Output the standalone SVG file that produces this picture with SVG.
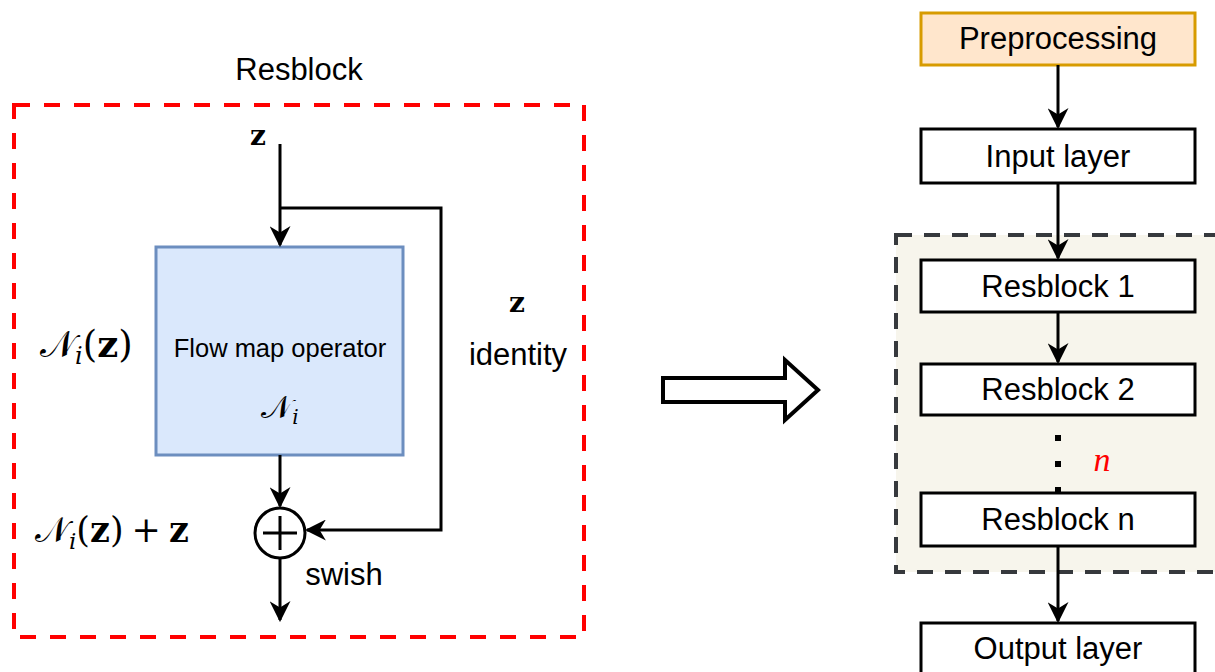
<svg xmlns="http://www.w3.org/2000/svg" width="1215" height="672" viewBox="0 0 1215 672">
<style>
.lbl{font-family:"Liberation Sans",Arial,sans-serif;fill:#000}
.math{font-family:"DejaVu Serif","Liberation Serif",serif;fill:#000}
.box{fill:#fff;stroke:#000;stroke-width:3}
.ln{fill:none;stroke:#000;stroke-width:3}
</style>
<defs>
<marker id="ah" viewBox="0 0 10 10" refX="9" refY="5" markerWidth="7" markerHeight="7" orient="auto" markerUnits="strokeWidth">
<path d="M0,0 L10,5 L0,10 L3,5 Z" fill="#000"/>
</marker>
</defs>
<rect width="1215" height="672" fill="#fff"/>

<g id="resblock-frame">
<rect x="14" y="105" width="570" height="532" fill="none" stroke="#ff0000" stroke-width="4" stroke-dasharray="16 14"/>
<text class="lbl" x="299" y="80" font-size="31" text-anchor="middle">Resblock</text>
</g>

<g id="group-region">
<rect x="896" y="235" width="340" height="337" fill="#f7f5ec" stroke="#36393d" stroke-width="4" stroke-dasharray="16 12"/>
</g>

<g id="flowmap">
<rect x="156" y="247" width="247" height="208" fill="#dae8fc" stroke="#6c8ebf" stroke-width="3"/>
<text class="lbl" x="280" y="357" font-size="25.5" text-anchor="middle">Flow map operator</text>
<text class="math" x="280" y="418" font-size="32" text-anchor="middle">𝒩<tspan font-size="20" font-style="italic" dy="6">i</tspan></text>
</g>

<g id="sum">
<circle cx="280" cy="533" r="25" fill="#fff" stroke="#000" stroke-width="3"/>
<path d="M280,516 V550 M263,533 H297" stroke="#000" stroke-width="3"/>
</g>

<g id="labels">
<text class="math" x="258" y="145" font-size="28" font-weight="bold" text-anchor="middle">z</text>
<text class="math" x="40" y="357" font-size="37">𝒩<tspan font-size="24" font-style="italic" dy="7">i</tspan><tspan dy="-7">(</tspan><tspan font-weight="bold">z</tspan>)</text>
<text class="math" x="35" y="542" font-size="35">𝒩<tspan font-size="23" font-style="italic" dy="7">i</tspan><tspan dy="-7">(</tspan><tspan font-weight="bold">z</tspan>)<tspan dx="8">+</tspan><tspan dx="8" font-weight="bold">z</tspan></text>
<text class="math" x="517" y="312" font-size="28" font-weight="bold" text-anchor="middle">z</text>
<text class="lbl" x="518" y="365" font-size="31" text-anchor="middle">identity</text>
<text class="lbl" x="344" y="585" font-size="31" text-anchor="middle">swish</text>
<text x="1102" y="471" font-size="34" font-style="italic" fill="#ff0000" font-family="'Liberation Serif',serif" text-anchor="middle">n</text>
</g>

<g id="big-arrow">
<path d="M663,378 H785 V360 L818,390 L785,420 V402 H663 Z" fill="#fff" stroke="#000" stroke-width="4"/>
</g>

<g id="preprocessing">
<rect x="921" y="13" width="274" height="52" fill="#ffe6cc" stroke="#d79b00" stroke-width="3"/>
<text class="lbl" x="1058" y="49" font-size="31" text-anchor="middle">Preprocessing</text>
</g>
<g id="input-layer">
<rect class="box" x="921" y="129" width="274" height="54"/>
<text class="lbl" x="1058" y="167" font-size="31" text-anchor="middle">Input layer</text>
</g>
<g id="resblock-1">
<rect class="box" x="921" y="260" width="274" height="52"/>
<text class="lbl" x="1058" y="297" font-size="31" text-anchor="middle">Resblock 1</text>
</g>
<g id="resblock-2">
<rect class="box" x="921" y="364" width="274" height="51"/>
<text class="lbl" x="1058" y="400" font-size="31" text-anchor="middle">Resblock 2</text>
</g>
<g id="resblock-n">
<rect class="box" x="921" y="493" width="274" height="53"/>
<text class="lbl" x="1058" y="530" font-size="31" text-anchor="middle">Resblock n</text>
</g>
<g id="output-layer">
<rect class="box" x="921" y="623" width="274" height="60"/>
<text class="lbl" x="1058" y="659" font-size="31" text-anchor="middle">Output layer</text>
</g>

<g id="connectors">
<path class="ln" d="M280,144 V245" marker-end="url(#ah)"/>
<path class="ln" d="M280,208 H441 V530 H307" marker-end="url(#ah)"/>
<path class="ln" d="M280,455 V506" marker-end="url(#ah)"/>
<path class="ln" d="M280,558 V620" marker-end="url(#ah)"/>
<path class="ln" d="M1058,65 V127" marker-end="url(#ah)"/>
<path class="ln" d="M1058,183 V258" marker-end="url(#ah)"/>
<path class="ln" d="M1058,312 V362" marker-end="url(#ah)"/>
<path class="ln" d="M1058,546 V621" marker-end="url(#ah)"/>
<g fill="#000">
<rect x="1055" y="435" width="6" height="6"/>
<rect x="1055" y="461" width="6" height="6"/>
<rect x="1055" y="487" width="6" height="6"/>
</g>
</g>
</svg>
